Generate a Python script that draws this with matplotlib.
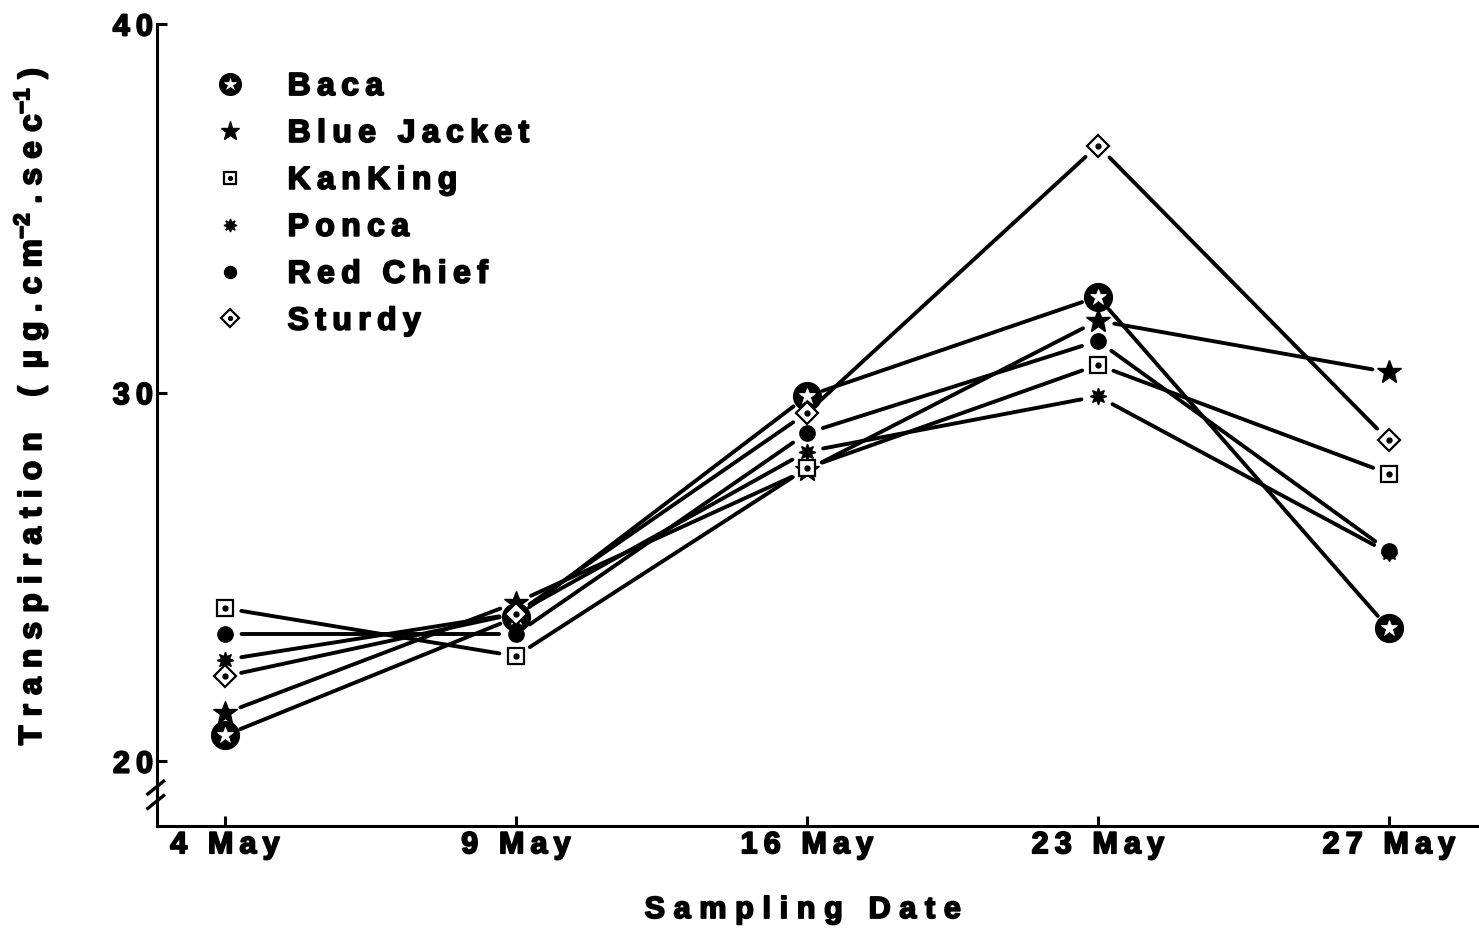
import numpy as np
import matplotlib.pyplot as plt
import matplotlib.patheffects as pe
from matplotlib.lines import Line2D
from matplotlib.legend_handler import HandlerTuple

plt.rcParams['font.family'] = ['Liberation Sans', 'DejaVu Sans']
plt.rcParams['font.weight'] = 'bold'
plt.rcParams['mathtext.fontset'] = 'custom'
plt.rcParams['mathtext.rm'] = 'Liberation Sans:bold'
plt.rcParams['mathtext.bf'] = 'Liberation Sans:bold'
plt.rcParams['mathtext.default'] = 'bf'

dates = ['4 May', '9 May', '16 May', '23 May', '27 May']

baca = [20.7, 23.9, 29.9, 32.6, 23.6]
blue_jacket = [21.3, 24.3, 27.9, 31.95, 30.55]
kanking = [24.15, 22.85, 27.95, 30.75, 27.8]
ponca = [22.75, 24.0, 28.4, 29.9, 25.65]
red_chief = [23.45, 23.45, 28.9, 31.4, 25.7]
sturdy = [22.3, 24.0, 29.45, 36.7, 28.7]

cultivars = ['Baca', 'Blue Jacket', 'KanKing', 'Ponca', 'Red Chief', 'Sturdy']
series = [baca, blue_jacket, kanking, ponca, red_chief, sturdy]

# heavier strokes for all lettering
heavy = [pe.withStroke(linewidth=1.3, foreground='black')]


def spaced(s, sep='\u2009'):
    return sep.join(s)


# each symbol is a stack of plain matplotlib markers
def symbol_layers(name, scale=1.0):
    if name == 'Baca':
        return [dict(marker='o', ms=20 * scale, mfc='black', mec='black'),
                dict(marker='*', ms=12 * scale, mfc='white', mec='white', mew=0.5)]
    if name == 'Blue Jacket':
        return [dict(marker='*', ms=18 * scale, mfc='black', mec='black')]
    if name == 'KanKing':
        return [dict(marker='s', ms=11.5 * scale, mfc='white', mec='black', mew=1.6),
                dict(marker='o', ms=3.5 * scale, mfc='black', mec='black')]
    if name == 'Ponca':
        return [dict(marker=(8, 1, 0), ms=12 * scale, mfc='black', mec='black')]
    if name == 'Red Chief':
        return [dict(marker='o', ms=11 * scale, mfc='black', mec='black')]
    if name == 'Sturdy':
        return [dict(marker='D', ms=11.5 * scale, mfc='white', mec='black', mew=1.6),
                dict(marker='o', ms=3.5 * scale, mfc='black', mec='black')]


fig = plt.figure(figsize=(14.79, 9.30), dpi=100)
ax = fig.add_axes([0.1062, 0.1118, 0.8938, 0.8624])

x = np.arange(len(dates))

# connecting segments stop short of the symbols
for vals in series:
    for i in range(len(x) - 1):
        ax.annotate('', xy=(x[i + 1], vals[i + 1]), xytext=(x[i], vals[i]),
                    arrowprops=dict(arrowstyle='-', lw=2.8, color='black',
                                    shrinkA=12, shrinkB=12))

for name, vals in zip(cultivars, series):
    for layer in symbol_layers(name):
        ax.plot(x, vals, ls='none', zorder=3, **layer)

ax.set_xlim(-0.233, 4.31)
ax.set_ylim(18.24, 40)

ax.set_xticks(x)
ax.set_xticklabels([spaced(d) for d in dates], fontsize=22, fontweight='bold')
ax.set_yticks([20, 30, 40])
ax.set_yticklabels([spaced(t) for t in ['20', '30', '40']], fontsize=22,
                   fontweight='bold')
ax.tick_params(direction='in', length=7, width=2.2, pad=3)
for lab in ax.get_xticklabels() + ax.get_yticklabels():
    lab.set_path_effects(heavy)

for side in ['top', 'right']:
    ax.spines[side].set_visible(False)
for side in ['left', 'bottom']:
    ax.spines[side].set_linewidth(2.2)

# axis break marks on the y axis
for yb in [0.048, 0.030]:
    ax.plot([-0.007, 0.005], [yb - 0.008, yb + 0.008], transform=ax.transAxes,
            color='black', lw=2.4, clip_on=False)

ax.set_xlabel(spaced('Sampling Date', '\u2009\u200a'), fontsize=22,
              fontweight='bold', path_effects=heavy)
ax.xaxis.set_label_coords(0.488, -0.086)
ylab = (spaced('Transpiration', '\u2009\u200a') + '    (  '
        + spaced('\u00b5g.cm', '\u2009\u200a') + r'$^{-2}$ '
        + spaced('.sec', '\u2009\u200a') + r'$^{-1}$ )')
ax.set_ylabel(ylab, fontsize=23, fontweight='bold', path_effects=heavy)
ax.yaxis.set_label_coords(-0.081, 0.524)

handles = []
for name in cultivars:
    handles.append(tuple(Line2D([], [], ls='none', **layer)
                         for layer in symbol_layers(name, 0.78)))
leg = ax.legend(handles, [spaced(c) for c in cultivars],
                handler_map={tuple: HandlerTuple(ndivide=1)},
                loc='upper left', bbox_to_anchor=(0.019, 0.976), frameon=False,
                prop=dict(size=23, weight='bold'), labelspacing=0.53,
                handlelength=1.2, handletextpad=1.2)
for t in leg.get_texts():
    t.set_path_effects(heavy)

fig.savefig('out.png', dpi=100)
